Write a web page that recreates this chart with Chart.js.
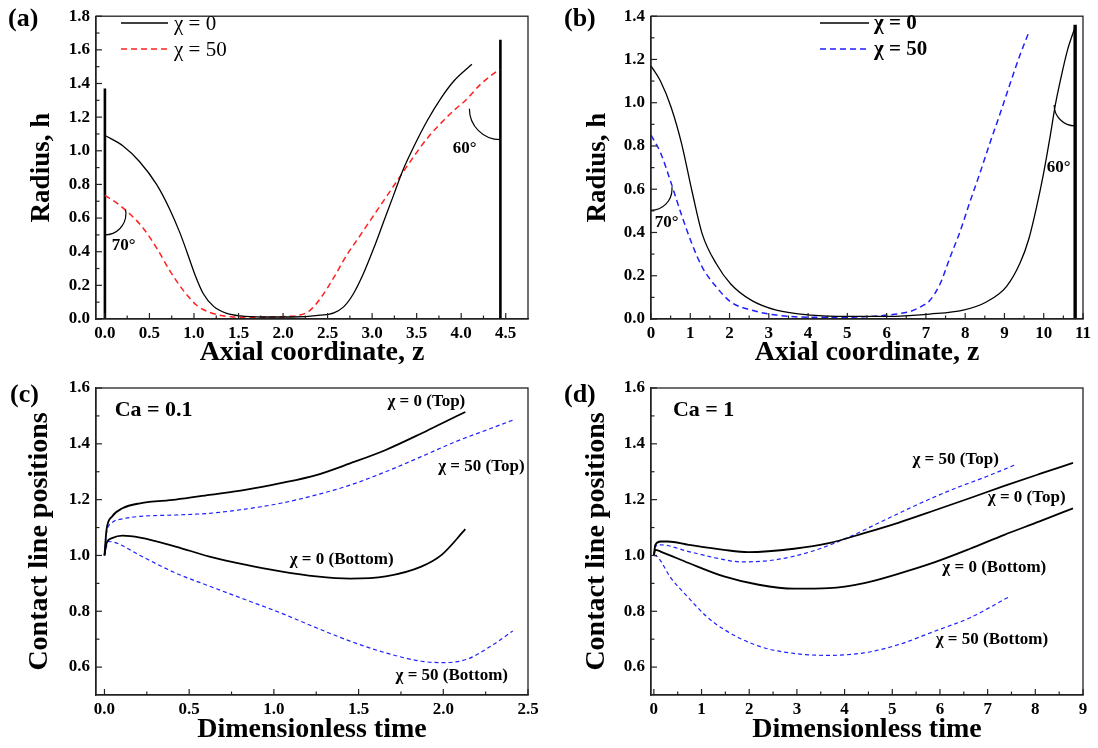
<!DOCTYPE html>
<html>
<head>
<meta charset="utf-8">
<title>Radius profiles and contact line positions</title>
<script src="https://cdn.jsdelivr.net/npm/chart.js@4.4.1/dist/chart.umd.min.js"></script>
<style>
	body { margin: 0; background: #fff; }
	#root { position: relative; width: 1098px; height: 748px; overflow: hidden; background: #fff; }
	#root canvas { position: absolute; }
</style>
</head>
<body>
<div id="root">
	<canvas id="chart-a" width="549" height="370" style="left:0;top:0"></canvas>
	<canvas id="chart-b" width="549" height="370" style="left:549px;top:0"></canvas>
	<canvas id="chart-c" width="549" height="378" style="left:0;top:370px"></canvas>
	<canvas id="chart-d" width="549" height="378" style="left:549px;top:370px"></canvas>
</div>
<script>
// ---- panel (a): radius profiles, short bridge
const zA_chi0 = [0, 0.2, 0.39, 0.58, 0.73, 0.84, 0.92, 1.01, 1.105, 1.22, 1.37, 1.52, 1.78, 2.1, 2.42, 2.57, 2.68, 2.79, 2.90, 3.02, 3.13, 3.24, 3.35, 3.47, 3.62, 3.77, 3.92, 4.12];
const hA_chi0 = [1.091, 1.03, 0.935, 0.80, 0.65, 0.515, 0.40, 0.265, 0.15, 0.075, 0.033, 0.018, 0.012, 0.012, 0.023, 0.037, 0.072, 0.15, 0.267, 0.423, 0.579, 0.735, 0.89, 1.027, 1.18, 1.31, 1.416, 1.514];
const zA_chi50 = [0, 0.12, 0.275, 0.43, 0.58, 0.73, 0.88, 1.03, 1.18, 1.41, 1.7, 2.05, 2.2, 2.3, 2.43, 2.57, 2.72, 2.87, 3.02, 3.17, 3.32, 3.47, 3.62, 3.77, 3.92, 4.05, 4.22, 4.43];
const hA_chi50 = [0.735, 0.695, 0.627, 0.54, 0.423, 0.286, 0.17, 0.082, 0.039, 0.014, 0.01, 0.015, 0.025, 0.05, 0.13, 0.247, 0.384, 0.50, 0.618, 0.735, 0.852, 0.968, 1.075, 1.163, 1.241, 1.30, 1.397, 1.485];
const wallA1_z = [0, 0], wallA1_h = [0, 1.37];
const wallA2_z = [4.44, 4.44], wallA2_h = [0, 1.66];
const ticksA_x = [0, 0.5, 1, 1.5, 2, 2.5, 3, 3.5, 4, 4.5];
const ticksA_y = [0, 0.2, 0.4, 0.6, 0.8, 1, 1.2, 1.4, 1.6, 1.8];

// ---- panel (b): radius profiles, long bridge
const zB_chi0 = [0, 0.24, 0.51, 0.78, 1.05, 1.31, 1.67, 2.03, 2.56, 3.19, 4.08, 5.0, 6.0, 7.1, 7.95, 8.55, 9.05, 9.4, 9.62, 9.82, 10.0, 10.15, 10.3, 10.42, 10.6, 10.8];
const hB_chi0 = [1.17, 1.10, 0.98, 0.81, 0.586, 0.39, 0.253, 0.162, 0.086, 0.041, 0.018, 0.012, 0.012, 0.023, 0.041, 0.08, 0.15, 0.26, 0.37, 0.52, 0.677, 0.83, 0.995, 1.10, 1.24, 1.35];
const zB_chi50 = [0, 0.24, 0.51, 0.78, 1.05, 1.31, 1.67, 2.03, 2.56, 3.19, 4.08, 5.0, 5.6, 6.2, 6.6, 6.9, 7.10, 7.36, 7.61, 7.87, 8.12, 8.38, 8.63, 8.89, 9.14, 9.40, 9.61];
const hB_chi50 = [0.85, 0.77, 0.63, 0.48, 0.344, 0.238, 0.147, 0.079, 0.041, 0.018, 0.008, 0.008, 0.012, 0.022, 0.035, 0.06, 0.086, 0.162, 0.283, 0.405, 0.541, 0.677, 0.814, 0.95, 1.086, 1.223, 1.32];
const wallB_z = [10.8, 10.8], wallB_h = [0, 1.36];
const ticksB_x = [0, 1, 2, 3, 4, 5, 6, 7, 8, 9, 10, 11];
const ticksB_y = [0, 0.2, 0.4, 0.6, 0.8, 1, 1.2, 1.4];

// ---- panel (c): contact lines, Ca = 0.1
const tC_top0 = [0, 0.012, 0.044, 0.106, 0.21, 0.42, 0.62, 0.83, 1.04, 1.25, 1.45, 1.66, 1.87, 1.99, 2.13];
const pC_top0 = [1.0, 1.092, 1.139, 1.169, 1.187, 1.20, 1.217, 1.235, 1.259, 1.288, 1.33, 1.378, 1.437, 1.473, 1.514];
const tC_top50 = [0, 0.012, 0.044, 0.106, 0.21, 0.42, 0.62, 0.83, 1.04, 1.25, 1.45, 1.66, 1.87, 2.07, 2.28, 2.42];
const pC_top50 = [1.0, 1.08, 1.117, 1.131, 1.14, 1.145, 1.151, 1.166, 1.187, 1.217, 1.252, 1.30, 1.354, 1.407, 1.455, 1.487];
const tC_bot0 = [0, 0.012, 0.044, 0.106, 0.21, 0.42, 0.62, 0.83, 1.04, 1.25, 1.45, 1.66, 1.87, 1.99, 2.13];
const pC_bot0 = [1.0, 1.044, 1.062, 1.071, 1.064, 1.032, 0.996, 0.967, 0.943, 0.925, 0.917, 0.925, 0.96, 1.002, 1.094];
const tC_bot50 = [0, 0.022, 0.064, 0.21, 0.42, 0.62, 0.83, 1.04, 1.25, 1.45, 1.66, 1.87, 2.0, 2.14, 2.28, 2.41];
const pC_bot50 = [1.0, 1.05, 1.046, 1.0, 0.937, 0.89, 0.842, 0.794, 0.741, 0.693, 0.651, 0.621, 0.616, 0.628, 0.675, 0.729];
const ticksC_x = [0, 0.5, 1, 1.5, 2, 2.5];

// ---- panel (d): contact lines, Ca = 1
const tD_top0 = [0, 0.03, 0.14, 0.29, 0.73, 1.47, 1.98, 2.94, 3.67, 4.41, 5.14, 5.88, 6.62, 7.35, 8.09, 8.79];
const pD_top0 = [1.0, 1.038, 1.05, 1.05, 1.038, 1.02, 1.012, 1.024, 1.044, 1.08, 1.118, 1.161, 1.205, 1.249, 1.292, 1.332];
const tD_top50 = [0, 0.03, 0.14, 0.73, 1.47, 1.83, 2.57, 3.30, 4.04, 4.77, 5.51, 6.24, 6.98, 7.57];
const pD_top50 = [1.0, 1.032, 1.038, 1.014, 0.985, 0.977, 0.985, 1.014, 1.062, 1.121, 1.181, 1.235, 1.283, 1.324];
const tD_bot0 = [0, 0.03, 0.14, 0.73, 1.47, 2.20, 2.94, 3.67, 4.41, 5.14, 5.88, 6.62, 7.35, 8.09, 8.79];
const pD_bot0 = [1.0, 1.02, 1.014, 0.973, 0.925, 0.895, 0.881, 0.883, 0.901, 0.935, 0.975, 1.023, 1.074, 1.122, 1.169];
const tD_bot50 = [0, 0.07, 0.36, 0.73, 1.10, 1.47, 2.20, 2.94, 3.67, 4.41, 5.14, 5.88, 6.62, 7.43];
const pD_bot50 = [1.0, 0.996, 0.919, 0.848, 0.782, 0.735, 0.675, 0.649, 0.642, 0.651, 0.681, 0.728, 0.776, 0.85];
const ticksD_x = [0, 1, 2, 3, 4, 5, 6, 7, 8, 9];
const ticksCD_y = [0.6, 0.8, 1, 1.2, 1.4, 1.6];

const FONT = "'Liberation Serif', 'Times New Roman', serif";
const RED = '#ff1f1f';
const BLUE = '#2020ff';

Chart.defaults.font.family = FONT;
Chart.defaults.color = '#000';

function pts(xs, ys) {
	return xs.map((x, i) => ({x: x, y: ys[i]}));
}

function curve(xs, ys, color, width, dash) {
	return {
		data: pts(xs, ys),
		borderColor: color,
		borderWidth: width,
		borderDash: dash || [],
		pointRadius: 0,
		cubicInterpolationMode: 'monotone',
		fill: false
	};
}

function wall(xs, ys, width) {
	return {
		data: pts(xs, ys),
		borderColor: '#000',
		borderWidth: width,
		pointRadius: 0,
		tension: 0,
		fill: false
	};
}

// frame, inward ticks, angle marks, labels and the small legend
const figureNotes = {
	id: 'figureNotes',
	afterDatasetsDraw(chart, args, opts) {
		const ctx = chart.ctx;
		const area = chart.chartArea;
		const xs = chart.scales.x, ys = chart.scales.y;
		ctx.save();

		ctx.strokeStyle = '#222';
		ctx.lineWidth = 1.3;
		ctx.strokeRect(area.left, area.top, area.right - area.left, area.bottom - area.top);

		// ticks point into the plot, with a minor one half way
		[[xs, true], [ys, false]].forEach(([scale, horiz]) => {
			const vals = scale.ticks.map(t => t.value);
			const marks = vals.map(v => [v, 6]);
			for (let i = 1; i < vals.length; i++) marks.push([(vals[i - 1] + vals[i]) / 2, 3.5]);
			ctx.lineWidth = 1.2;
			marks.forEach(([v, len]) => {
				const p = scale.getPixelForValue(v);
				ctx.beginPath();
				if (horiz) {
					ctx.moveTo(p, area.bottom);
					ctx.lineTo(p, area.bottom - len);
				} else {
					ctx.moveTo(area.left, p);
					ctx.lineTo(area.left + len, p);
				}
				ctx.stroke();
			});
		});

		ctx.strokeStyle = '#000';
		ctx.lineWidth = 1.2;
		(opts.arcs || []).forEach(a => {
			ctx.beginPath();
			ctx.arc(xs.getPixelForValue(a.x), ys.getPixelForValue(a.y), a.r, a.from, a.to, a.ccw);
			ctx.stroke();
		});

		ctx.fillStyle = '#000';
		ctx.textBaseline = 'middle';
		(opts.texts || []).forEach(t => {
			ctx.font = t.font;
			ctx.textAlign = t.align || 'center';
			ctx.fillText(t.text, xs.getPixelForValue(t.x), ys.getPixelForValue(t.y));
		});

		if (opts.legend) {
			const lg = opts.legend;
			lg.items.forEach((it, i) => {
				const ds = chart.data.datasets[it.ds];
				const y = lg.y + i * lg.dy;
				ctx.strokeStyle = ds.borderColor;
				ctx.lineWidth = ds.borderWidth;
				ctx.setLineDash(ds.borderDash || []);
				ctx.beginPath();
				ctx.moveTo(area.left + lg.x, y);
				ctx.lineTo(area.left + lg.x + lg.len, y);
				ctx.stroke();
				ctx.setLineDash([]);
				ctx.font = lg.font;
				ctx.textAlign = 'left';
				ctx.fillText(it.text, area.left + lg.x + lg.len + lg.gap, y + 1);
			});
		}

		if (opts.panel) {
			ctx.font = 'bold 26px ' + FONT;
			ctx.textAlign = 'left';
			ctx.fillText(opts.panel, opts.panelX, opts.panelY);
		}
		ctx.restore();
	}
};

function makeChart(id, c) {
	return new Chart(document.getElementById(id), {
		type: 'line',
		data: { datasets: c.datasets },
		plugins: [figureNotes],
		options: {
			responsive: false,
			animation: false,
			events: [],
			layout: { padding: { top: c.padTop, right: c.padRight, left: 0, bottom: 0 } },
			plugins: {
				legend: { display: false },
				tooltip: { enabled: false },
				figureNotes: c.notes
			},
			scales: {
				x: {
					type: 'linear',
					min: c.xMin, max: c.xMax,
					grid: { display: false, drawTicks: false },
					border: { display: true, color: '#222', width: 1.3 },
					afterBuildTicks: s => { s.ticks = c.xTicks.map(v => ({value: v})); },
					afterFit: s => { s.height = c.xHeight; },
					ticks: {
						padding: 4, maxRotation: 0, autoSkip: false,
						font: { size: 17, weight: 'bold' },
						callback: c.xFmt
					},
					title: {
						display: true, text: c.xTitle,
						font: { size: 28, weight: 'bold' },
						padding: { top: 0, bottom: c.xTitlePad }
					}
				},
				y: {
					type: 'linear',
					min: c.yMin, max: c.yMax,
					grid: { display: false, drawTicks: false },
					border: { display: true, color: '#222', width: 1.3 },
					afterBuildTicks: s => { s.ticks = c.yTicks.map(v => ({value: v})); },
					afterFit: s => { s.width = c.yWidth; },
					ticks: {
						padding: 6,
						font: { size: 17, weight: 'bold' },
						callback: v => v.toFixed(1)
					},
					title: {
						display: true, text: c.yTitle,
						font: { size: c.yTitleSize, weight: 'bold' },
						padding: { top: c.yTitlePad, bottom: 0 }
					}
				}
			}
		}
	});
}

const oneDecimal = v => v.toFixed(1);
const whole = v => String(Math.round(v));
const degFont = 'bold 17px ' + FONT;
const tagFont = 'bold 17px ' + FONT;

makeChart('chart-a', {
	datasets: [
		curve(zA_chi0, hA_chi0, '#000', 1.3),
		curve(zA_chi50, hA_chi50, RED, 1.5, [6, 4]),
		wall(wallA1_z, wallA1_h, 2.6),
		wall(wallA2_z, wallA2_h, 2.6)
	],
	xMin: -0.1, xMax: 4.75, yMin: 0, yMax: 1.8,
	xTicks: ticksA_x, yTicks: ticksA_y, xFmt: oneDecimal,
	xTitle: 'Axial coordinate, z', yTitle: 'Radius, h', yTitleSize: 27,
	padTop: 11, padRight: 21, yWidth: 96, xHeight: 51, yTitlePad: 26, xTitlePad: 0,
	notes: {
		panel: '(a)', panelX: 8, panelY: 19,
		legend: { x: 25, y: 23, dy: 26, len: 47, gap: 6, font: '21px ' + FONT,
			items: [{ds: 0, text: 'χ = 0'}, {ds: 1, text: 'χ = 50'}] },
		arcs: [
			{x: 0, y: 0.625, r: 21, from: Math.PI / 2, to: -0.2, ccw: true},
			{x: 4.44, y: 1.25, r: 31, from: Math.PI / 2, to: Math.PI, ccw: false}
		],
		texts: [
			{text: '70°', x: 0.21, y: 0.436, font: degFont},
			{text: '60°', x: 4.04, y: 1.01, font: degFont}
		]
	}
});

makeChart('chart-b', {
	datasets: [
		curve(zB_chi0, hB_chi0, '#000', 1.3),
		curve(zB_chi50, hB_chi50, BLUE, 1.5, [6, 4]),
		wall(wallB_z, wallB_h, 3.4)
	],
	xMin: 0, xMax: 11, yMin: 0, yMax: 1.4,
	xTicks: ticksB_x, yTicks: ticksB_y, xFmt: whole,
	xTitle: 'Axial coordinate, z', yTitle: 'Radius, h', yTitleSize: 27,
	padTop: 11, padRight: 15, yWidth: 102, xHeight: 51, yTitlePad: 33, xTitlePad: 0,
	notes: {
		panel: '(b)', panelX: 15, panelY: 19,
		legend: { x: 169, y: 23, dy: 26, len: 49, gap: 5, font: 'bold 21px ' + FONT,
			items: [{ds: 0, text: 'χ = 0'}, {ds: 1, text: 'χ = 50'}] },
		arcs: [
			{x: 0, y: 0.60, r: 21, from: Math.PI / 2, to: -0.1, ccw: true},
			{x: 10.8, y: 0.99, r: 21, from: Math.PI / 2, to: Math.PI, ccw: false}
		],
		texts: [
			{text: '70°', x: 0.4, y: 0.445, font: degFont},
			{text: '60°', x: 10.38, y: 0.70, font: degFont}
		]
	}
});

makeChart('chart-c', {
	datasets: [
		curve(tC_top0, pC_top0, '#000', 1.8),
		curve(tC_top50, pC_top50, BLUE, 1.2, [4, 3]),
		curve(tC_bot0, pC_bot0, '#000', 1.8),
		curve(tC_bot50, pC_bot50, BLUE, 1.2, [4, 3])
	],
	xMin: -0.05, xMax: 2.5, yMin: 0.5, yMax: 1.6,
	xTicks: ticksC_x, yTicks: ticksCD_y, xFmt: oneDecimal,
	xTitle: 'Dimensionless time', yTitle: 'Contact line positions', yTitleSize: 28,
	padTop: 18, padRight: 21, yWidth: 96, xHeight: 53, yTitlePad: 23, xTitlePad: 1,
	notes: {
		panel: '(c)', panelX: 10, panelY: 25,
		texts: [
			{text: 'Ca = 0.1', x: 0.06, y: 1.52, align: 'left', font: 'bold 22px ' + FONT},
			{text: 'χ = 0 (Top)', x: 1.90, y: 1.551, font: tagFont},
			{text: 'χ = 50 (Top)', x: 2.225, y: 1.318, font: tagFont},
			{text: 'χ = 0 (Bottom)', x: 1.40, y: 0.986, font: tagFont},
			{text: 'χ = 50 (Bottom)', x: 2.05, y: 0.571, font: tagFont}
		]
	}
});

makeChart('chart-d', {
	datasets: [
		curve(tD_top0, pD_top0, '#000', 1.8),
		curve(tD_top50, pD_top50, BLUE, 1.2, [4, 3]),
		curve(tD_bot0, pD_bot0, '#000', 1.8),
		curve(tD_bot50, pD_bot50, BLUE, 1.2, [4, 3])
	],
	xMin: -0.06, xMax: 9, yMin: 0.5, yMax: 1.6,
	xTicks: ticksD_x, yTicks: ticksCD_y, xFmt: whole,
	xTitle: 'Dimensionless time', yTitle: 'Contact line positions', yTitleSize: 28,
	padTop: 18, padRight: 15, yWidth: 102, xHeight: 53, yTitlePad: 31, xTitlePad: 1,
	notes: {
		panel: '(d)', panelX: 15, panelY: 25,
		texts: [
			{text: 'Ca = 1', x: 0.40, y: 1.52, align: 'left', font: 'bold 22px ' + FONT},
			{text: 'χ = 50 (Top)', x: 6.33, y: 1.342, font: tagFont},
			{text: 'χ = 0 (Top)', x: 7.82, y: 1.208, font: tagFont},
			{text: 'χ = 0 (Bottom)', x: 7.14, y: 0.957, font: tagFont},
			{text: 'χ = 50 (Bottom)', x: 7.09, y: 0.70, font: tagFont}
		]
	}
});
</script>
</body>
</html>
